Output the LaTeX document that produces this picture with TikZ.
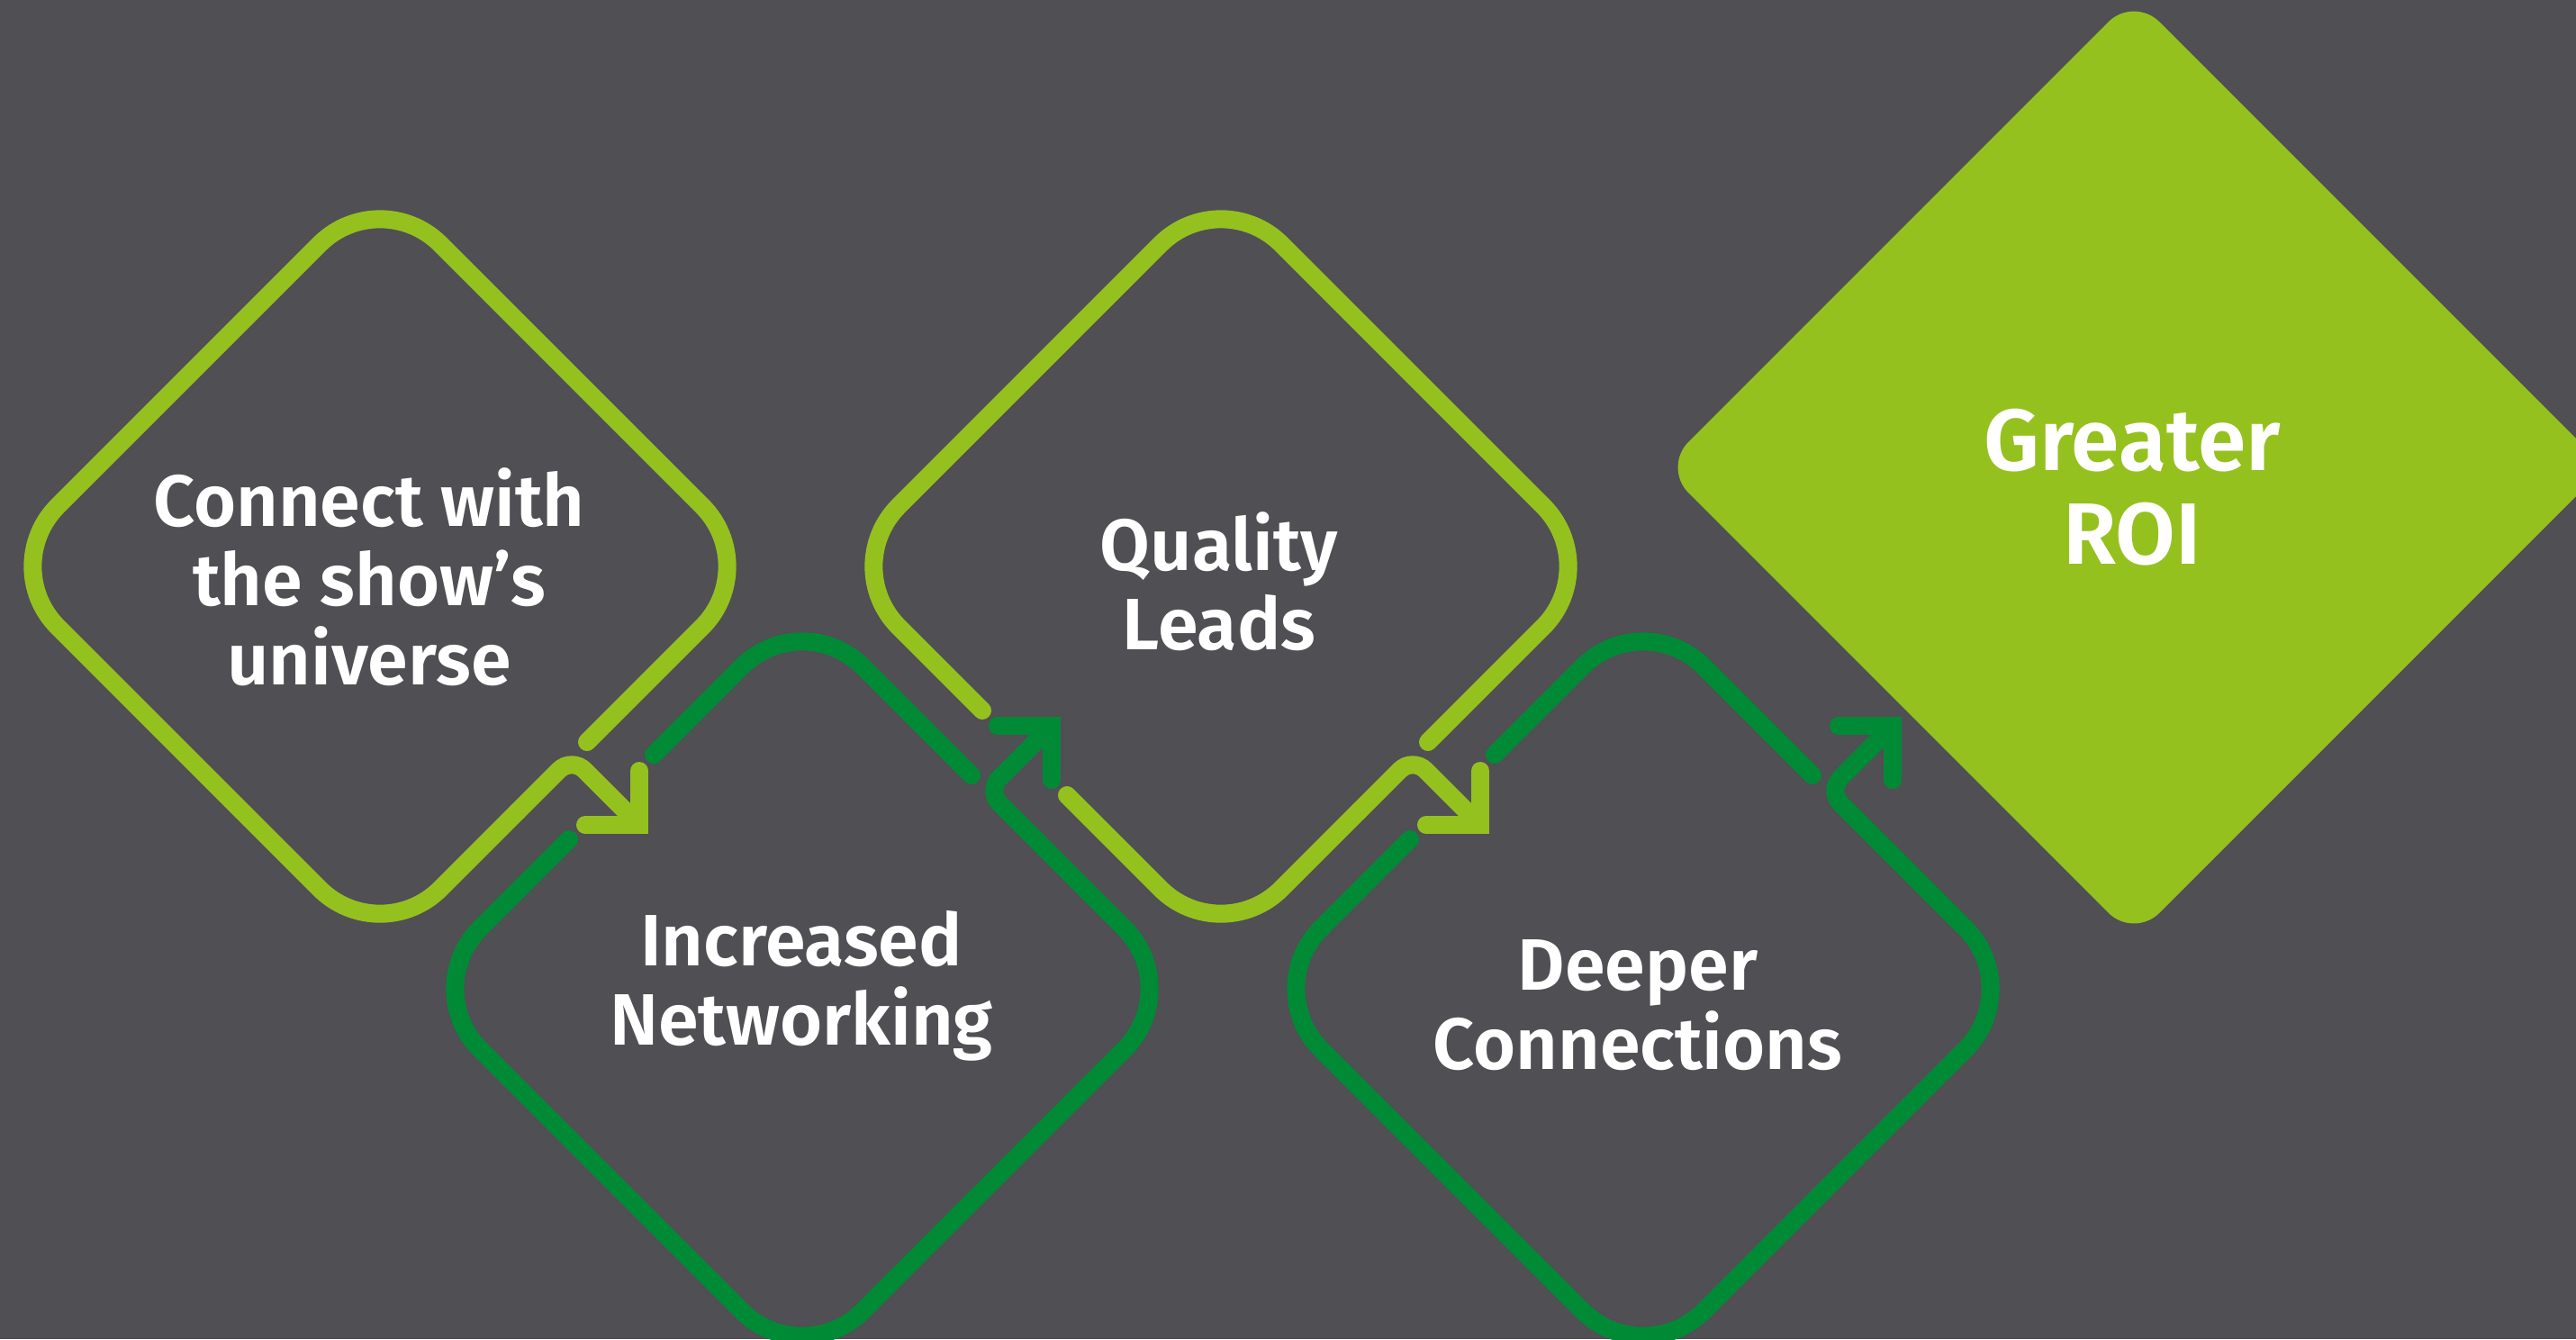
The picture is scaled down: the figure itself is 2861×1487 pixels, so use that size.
\documentclass[tikz,border=0pt]{standalone}
\usepackage{fontspec}
\setmainfont{Fira Sans}[BoldFont={Fira Sans SemiBold}]
\definecolor{slate}{HTML}{4F4F54}
\definecolor{limegr}{HTML}{95C11F}
\definecolor{forest}{HTML}{008A36}

\begin{document}
\begin{tikzpicture}[x=0.1mm, y=-0.1mm, line cap=round,
  limeline/.style={draw=limegr, line width=2mm},
  forestline/.style={draw=forest, line width=2mm},
  boxtext/.style={text=white, align=center, font=\bfseries\fontsize{23}{25}\selectfont}]
\path[use as bounding box, fill=slate] (0,0) rectangle (2861,1487);
\clip (0,0) rectangle (2861,1487);

\coordinate (c1) at (422,629);
\coordinate (c2) at (891,1098);
\coordinate (c3) at (1356,629);
\coordinate (c4) at (1825,1098);
\coordinate (c5) at (2370,519);

\coordinate (e1) at ([shift={(230,195)}]c1);
\coordinate (m1) at ([shift={(153,272)}]c1);
\coordinate (k1) at ([shift={(213,212)}]c1);
\coordinate (a1) at ([shift={(288,287)}]c1);

\coordinate (e2) at ([shift={(188,-237)}]c2);
\coordinate (g2a) at ([shift={(-165,-260)}]c2);
\coordinate (g2b) at ([shift={(-259,-166)}]c2);
\coordinate (m2) at ([shift={(265,-160)}]c2);
\coordinate (k2) at ([shift={(205,-220)}]c2);
\coordinate (a2) at ([shift={(277,-292)}]c2);

\coordinate (e3) at ([shift={(230,195)}]c3);
\coordinate (g3a) at ([shift={(-265,160)}]c3);
\coordinate (g3b) at ([shift={(-171,254)}]c3);
\coordinate (m3) at ([shift={(153,272)}]c3);
\coordinate (k3) at ([shift={(213,212)}]c3);
\coordinate (a3) at ([shift={(288,287)}]c3);

\coordinate (e4) at ([shift={(188,-237)}]c4);
\coordinate (g4a) at ([shift={(-165,-260)}]c4);
\coordinate (g4b) at ([shift={(-259,-166)}]c4);
\coordinate (m4) at ([shift={(265,-160)}]c4);
\coordinate (k4) at ([shift={(205,-220)}]c4);
\coordinate (a4) at ([shift={(277,-292)}]c4);

% first diamond and its arrow
\draw[limeline, rounded corners=9.5mm] (e1) -- ([shift={(425,0)}]c1) -- ([shift={(0,-425)}]c1)
  -- ([shift={(-425,0)}]c1) -- ([shift={(0,425)}]c1) -- (m1);
\draw[limeline, rounded corners=2mm] (m1) -- (k1) -- (a1);
\draw[limeline] ([shift={(-60,0)}]a1) -- (a1) -- ([shift={(0,-60)}]a1);

% second diamond
\draw[forestline, rounded corners=9.5mm] (e2) -- ([shift={(0,-425)}]c2) -- (g2a);
\draw[forestline, rounded corners=9.5mm] (g2b) -- ([shift={(-425,0)}]c2) -- ([shift={(0,425)}]c2)
  -- ([shift={(425,0)}]c2) -- (m2);
\draw[forestline, rounded corners=2mm] (m2) -- (k2) -- (a2);
\draw[forestline] ([shift={(-60,0)}]a2) -- (a2) -- ([shift={(0,60)}]a2);

% third diamond
\draw[limeline, rounded corners=9.5mm] (e3) -- ([shift={(425,0)}]c3) -- ([shift={(0,-425)}]c3)
  -- ([shift={(-425,0)}]c3) -- (g3a);
\draw[limeline, rounded corners=9.5mm] (g3b) -- ([shift={(0,425)}]c3) -- (m3);
\draw[limeline, rounded corners=2mm] (m3) -- (k3) -- (a3);
\draw[limeline] ([shift={(-60,0)}]a3) -- (a3) -- ([shift={(0,-60)}]a3);

% fourth diamond
\draw[forestline, rounded corners=9.5mm] (e4) -- ([shift={(0,-425)}]c4) -- (g4a);
\draw[forestline, rounded corners=9.5mm] (g4b) -- ([shift={(-425,0)}]c4) -- ([shift={(0,425)}]c4)
  -- ([shift={(425,0)}]c4) -- (m4);
\draw[forestline, rounded corners=2mm] (m4) -- (k4) -- (a4);
\draw[forestline] ([shift={(-60,0)}]a4) -- (a4) -- ([shift={(0,60)}]a4);

% filled diamond
\fill[limegr, rounded corners=4mm] ([shift={(0,-523)}]c5) -- ([shift={(523,0)}]c5)
  -- ([shift={(0,523)}]c5) -- ([shift={(-523,0)}]c5) -- cycle;

\node[boxtext] (t1) at ([shift={(-12,12)}]c1) {Connect with\\the show's\\universe};
\node[boxtext] (t2) at ([shift={(-1,-3)}]c2) {Increased\\Networking};
\node[boxtext] (t3) at ([shift={(-2,17)}]c3) {Quality\\Leads};
\node[boxtext] (t4) at ([shift={(-6,18)}]c4) {Deeper\\Connections};
\node[boxtext, font=\bfseries\fontsize{27.5}{29.6}\selectfont] (t5) at ([shift={(-2,22)}]c5) {Greater\\ROI};
\end{tikzpicture}
\end{document}
